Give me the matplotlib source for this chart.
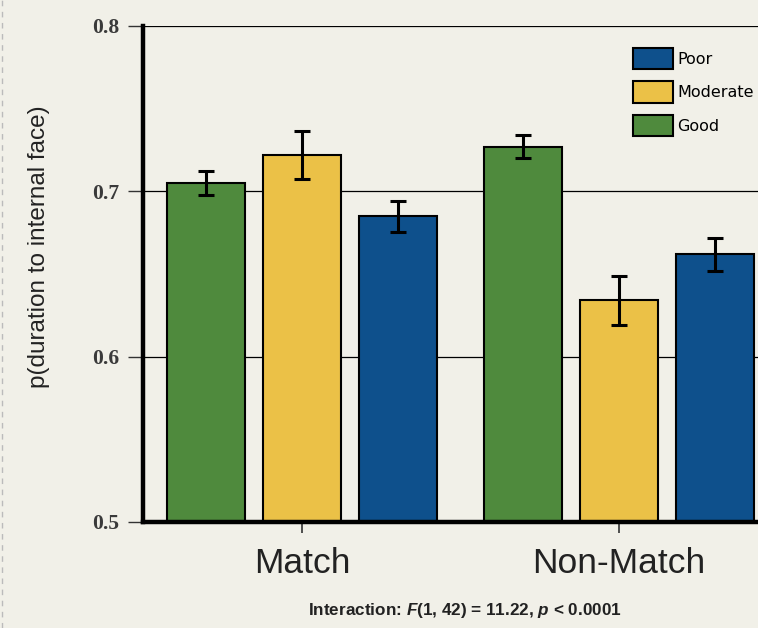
import matplotlib.pyplot as plt
from matplotlib.lines import Line2D
from matplotlib.patches import Patch

groups = ["Match", "Non-Match"]
levels = ["Good", "Moderate", "Poor"]
means = {
    "Good": [0.705, 0.727],
    "Moderate": [0.722, 0.634],
    "Poor": [0.685, 0.662],
}
errors = {
    "Good": [0.007, 0.007],
    "Moderate": [0.0145, 0.0148],
    "Poor": [0.0094, 0.010],
}
colors = {"Good": "#4f8a3d", "Moderate": "#ebc147", "Poor": "#0e508c"}
yticks = [0.5, 0.6, 0.7, 0.8]

bg = "#f1f0e8"
plt.rcParams["mathtext.fontset"] = "custom"
plt.rcParams["mathtext.it"] = "Liberation Sans:italic:bold"
plt.rcParams["mathtext.rm"] = "Liberation Sans:bold"

fig = plt.figure(figsize=(7.58, 6.28), dpi=100, facecolor=bg)
ax = fig.add_axes([0.1887, 0.1688, 0.8113, 0.7898])
ax.set_facecolor(bg)

width = 0.246
step = 0.303
for i, lev in enumerate(levels):
    xs = [g + (i - 1) * step for g in range(len(groups))]
    ax.bar(xs, [m - 0.5 for m in means[lev]], bottom=0.5, width=width,
           color=colors[lev], edgecolor="black", linewidth=1.5, zorder=2)
    ax.errorbar(xs, means[lev], yerr=errors[lev], fmt="none", ecolor="black",
                elinewidth=2.2, capsize=6, capthick=2.2, zorder=3)

ax.set_xlim(-0.5016, 1.4385)
ax.set_ylim(0.5, 0.8)
for y in yticks[1:]:
    ax.axhline(y, color="black", linewidth=0.9, zorder=1)

ax.set_yticks(yticks)
ax.set_yticklabels([f"{t:.1f}" for t in yticks], family="Liberation Serif",
                   fontsize=15.5, color="#3a3a3a", fontweight="bold")
ax.set_xticks(range(len(groups)))
ax.set_xticklabels(groups, family="Liberation Sans", fontsize=25.5, color="#222222")
ax.tick_params(axis="y", direction="out", length=11, width=1, color="#333333", pad=6)
ax.tick_params(axis="x", direction="out", length=8, width=1.2, color="#333333", pad=10)

for side in ["top", "right"]:
    ax.spines[side].set_visible(False)
ax.spines["left"].set_linewidth(3.2)
ax.spines["bottom"].set_linewidth(3.2)

ax.set_ylabel("p(duration to internal face)", family="Liberation Sans",
              fontsize=17.5, color="#222222")
ax.yaxis.set_label_coords(-0.152, 0.556)

handles = [Patch(facecolor=colors[l], edgecolor="black", linewidth=1.5)
           for l in ["Poor", "Moderate", "Good"]]
ax.legend(handles, ["Poor", "Moderate", "Good"], loc="upper left",
          bbox_to_anchor=(0.773, 0.985), frameon=False,
          handlelength=2.5, handleheight=1.7, handletextpad=0.3,
          labelspacing=0.75, prop={"family": "DejaVu Sans", "size": 11.5})

fig.text(0.613, 0.028, r"Interaction: $F$(1, 42) = 11.22, $p$ < 0.0001",
         ha="center", va="center", family="Liberation Sans", fontsize=12.3,
         fontweight="bold", color="#222222")

fig.add_artist(Line2D([0.003, 0.003], [0.0, 1.0], transform=fig.transFigure,
                      color="#bbbbbb", linewidth=1, linestyle=(0, (4, 4))))

fig.savefig("out.png", dpi=100, facecolor=bg)
